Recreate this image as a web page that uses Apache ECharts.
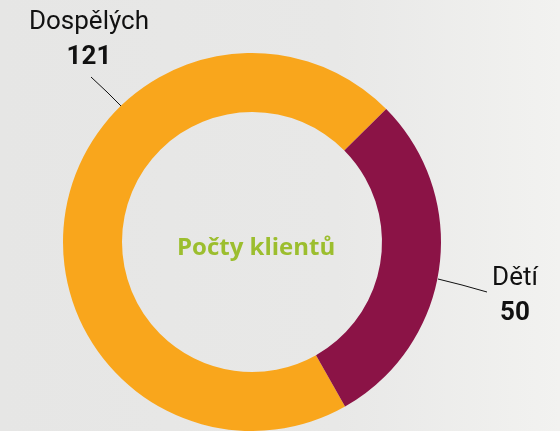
<!DOCTYPE html>
<html>
<head>
<meta charset="utf-8">
<script src="https://cdn.jsdelivr.net/npm/echarts@6/dist/echarts.min.js"></script>
<style>
  html, body { margin: 0; padding: 0; }
  #donut { width: 560px; height: 431px; }
</style>
</head>
<body>
<div id="donut"></div>
<script>
var categories = ['Dospělých', 'Dětí'];
var values = [121, 50];
var colors = ['#F9A61C', '#8B1346'];
var centerTitle = 'Počty klientů';

var myChart = echarts.init(document.getElementById('donut'));

var data = categories.map(function (name, i) {
    return { name: name, value: values[i], itemStyle: { color: colors[i] } };
});

var option = {
    backgroundColor: {
        type: 'linear', x: 0, y: 0, x2: 1, y2: 0,
        colorStops: [
            { offset: 0, color: '#E6E6E5' },
            { offset: 0.6, color: '#E8E8E7' },
            { offset: 1, color: '#F2F2F0' }
        ]
    },
    title: {
        text: centerTitle,
        left: 172,
        top: 231,
        textStyle: {
            color: '#9CBE2E',
            fontFamily: 'Open Sans',
            fontWeight: 'bold',
            fontSize: 24
        }
    },
    series: [
        {
            name: centerTitle,
            type: 'pie',
            center: [252, 242],
            radius: [130, 189],
            startAngle: -60.5,
            clockwise: true,
            silent: true,
            avoidLabelOverlap: false,
            label: {
                show: true,
                overflow: 'none',
                formatter: '{n|{b}}\n{v|{c}}',
                align: 'center',
                rich: {
                    n: { fontFamily: 'Roboto', fontSize: 26, color: '#111', lineHeight: 35, align: 'center' },
                    v: { fontFamily: 'Roboto', fontSize: 26, fontWeight: 'bold', color: '#111', lineHeight: 35, align: 'center' }
                }
            },
            labelLine: {
                show: true,
                lineStyle: { color: '#111', width: 1 }
            },
            labelLayout: function (p) {
                if (p.dataIndex === 0) {
                    return {
                        x: 89, y: 40, align: 'center', verticalAlign: 'middle',
                        labelLinePoints: [[123, 108], [107, 92], [91, 77]]
                    };
                }
                return {
                    x: 515, y: 296, align: 'center', verticalAlign: 'middle',
                    labelLinePoints: [[438, 279], [462, 285], [487, 292]]
                };
            },
            data: data
        }
    ]
};
myChart.setOption(option);
</script>
</body>
</html>
